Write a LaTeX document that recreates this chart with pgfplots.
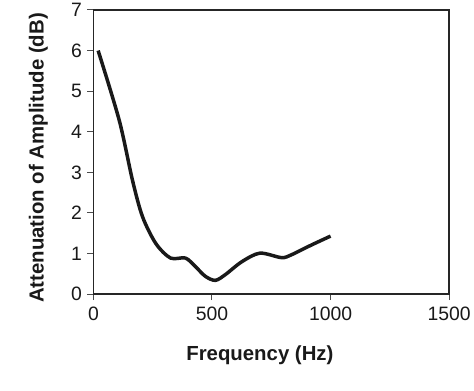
\documentclass[border=0pt]{standalone}
\usepackage{fontspec}
\setmainfont{Liberation Sans}
\usepackage{pgfplots}
\pgfplotsset{compat=1.18}
\begin{document}
\begin{tikzpicture}
\begin{axis}[
  scale only axis,
  width=358pt, height=286pt,
  xmin=0, xmax=1500, ymin=0, ymax=7,
  xtick={0,500,1000,1500}, ytick={0,1,...,7},
  xtick pos=bottom, ytick pos=left, tick align=outside,
  major tick length=6pt,
  axis line style={line width=1.5pt, draw=black!85},
  tick style={line width=1pt, draw=black!70},
  /pgf/number format/assume math mode=true,
  /pgf/number format/set thousands separator={},
  ticklabel style={font=\fontsize{19.5}{22}\selectfont, text=black!90},
  yticklabel style={xshift=-2pt},
  xticklabel style={yshift=-3pt},
  xlabel={\textbf{Frequency (Hz)}},
  ylabel={\textbf{Attenuation of Amplitude (dB)}},
  label style={font=\fontsize{20.5}{24}\selectfont, text=black!90},
  xlabel style={at={([yshift=-67pt]axis description cs:0.468,0)}, anchor=base},
  ylabel style={at={([xshift=-55.5pt]axis description cs:0,0.479)}, anchor=center},
  clip=false,
]
\addplot[line width=3.5pt, black!90, smooth, tension=0.5] coordinates {
(20,6.0) (109,4.28) (165,2.8) (207,1.91) (263,1.25) (325,0.89) (388,0.89)
(430,0.68) (472,0.44) (514,0.34) (556,0.48) (626,0.80) (702,1.01)
(793,0.90) (835,0.97) (919,1.21) (1000,1.43)
};
\draw[line width=1.5pt, black!85] (rel axis cs:0,1) -- (rel axis cs:1,1) -- (rel axis cs:1,0);
\end{axis}
\path (-94pt,-96.5pt) (380pt,294.5pt);
\end{tikzpicture}
\end{document}
